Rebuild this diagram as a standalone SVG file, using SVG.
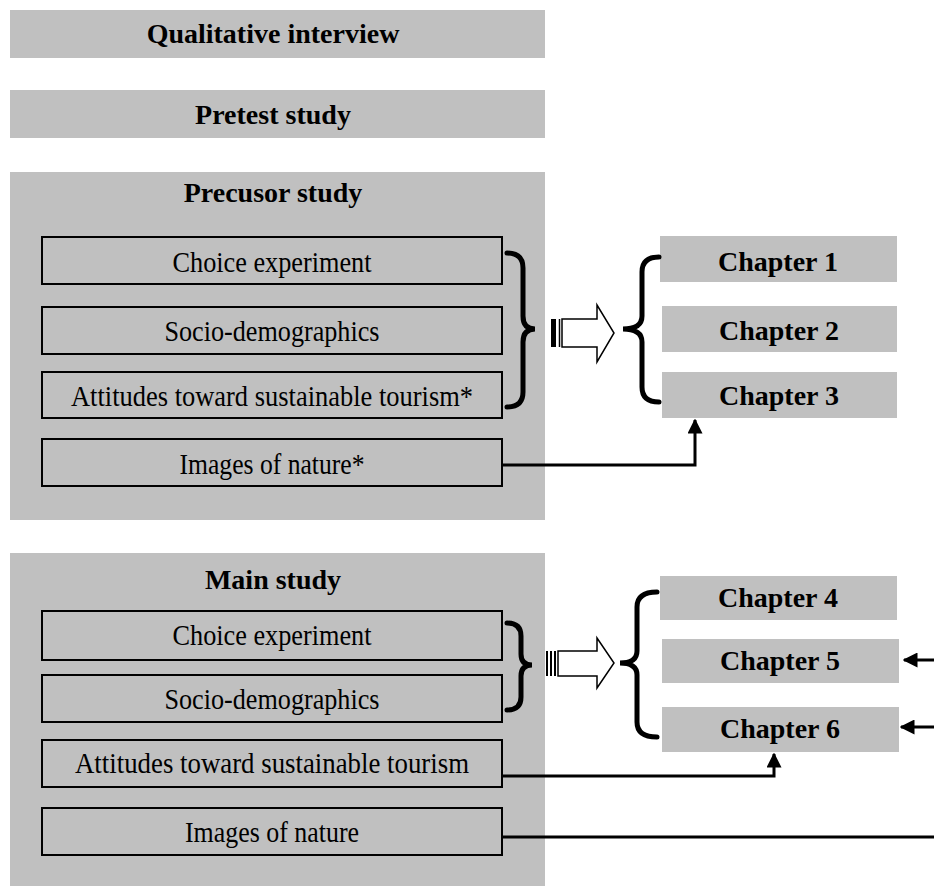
<svg xmlns="http://www.w3.org/2000/svg" width="934" height="888" viewBox="0 0 934 888">
<style>
.g{fill:#c0c0c0}
.b{fill:none;stroke:#000;stroke-width:2}
.t{font-family:"Liberation Serif",serif;font-size:28px;font-weight:bold;text-anchor:middle;fill:#000}
.r{font-family:"Liberation Serif",serif;font-size:29px;text-anchor:middle;fill:#000}
.br{fill:none;stroke:#000;stroke-width:5;stroke-linecap:round}
.c{fill:none;stroke:#000;stroke-width:3}
.ha{fill:#fff;stroke:#000;stroke-width:1.5}
</style>
<defs>
<marker id="ah" viewBox="0 0 10 10" refX="9" refY="5" markerWidth="5" markerHeight="5" orient="auto" markerUnits="strokeWidth">
<path d="M0,0 L10,5 L0,10 z" fill="#000"/>
</marker>
</defs>
<g id="qualitative"><rect class="g" x="10" y="10" width="535" height="48"/><text class="t" x="273" y="43">Qualitative interview</text></g>
<g id="pretest"><rect class="g" x="10" y="90" width="535" height="48"/><text class="t" x="273" y="124">Pretest study</text></g>
<g id="precursor"><rect class="g" x="10" y="172" width="535" height="348"/><text class="t" x="273" y="202">Precusor study</text></g>
<g id="p-choice"><rect class="b" x="42" y="237" width="460" height="47"/><text class="r" x="272" y="272" textLength="199" lengthAdjust="spacingAndGlyphs">Choice experiment</text></g>
<g id="p-socio"><rect class="b" x="42" y="307" width="460" height="47"/><text class="r" x="272" y="341" textLength="215" lengthAdjust="spacingAndGlyphs">Socio-demographics</text></g>
<g id="p-att"><rect class="b" x="42" y="372" width="460" height="46"/><text class="r" x="272" y="406" textLength="402" lengthAdjust="spacingAndGlyphs">Attitudes toward sustainable tourism*</text></g>
<g id="p-img"><rect class="b" x="42" y="439" width="460" height="47"/><text class="r" x="272" y="474" textLength="185" lengthAdjust="spacingAndGlyphs">Images of nature*</text></g>
<g id="main"><rect class="g" x="10" y="553" width="535" height="333"/><text class="t" x="273" y="589">Main study</text></g>
<g id="m-choice"><rect class="b" x="42" y="611" width="460" height="49"/><text class="r" x="272" y="645" textLength="199" lengthAdjust="spacingAndGlyphs">Choice experiment</text></g>
<g id="m-socio"><rect class="b" x="42" y="675" width="460" height="47"/><text class="r" x="272" y="709" textLength="215" lengthAdjust="spacingAndGlyphs">Socio-demographics</text></g>
<g id="m-att"><rect class="b" x="42" y="740" width="460" height="47"/><text class="r" x="272" y="773" textLength="394" lengthAdjust="spacingAndGlyphs">Attitudes toward sustainable tourism</text></g>
<g id="m-img"><rect class="b" x="42" y="808" width="460" height="47"/><text class="r" x="272" y="842" textLength="174" lengthAdjust="spacingAndGlyphs">Images of nature</text></g>
<g id="ch1"><rect class="g" x="660" y="236" width="237" height="46"/><text class="t" x="778" y="271">Chapter 1</text></g>
<g id="ch2"><rect class="g" x="662" y="306" width="235" height="46"/><text class="t" x="779" y="340">Chapter 2</text></g>
<g id="ch3"><rect class="g" x="662" y="372" width="235" height="46"/><text class="t" x="779" y="405">Chapter 3</text></g>
<g id="ch4"><rect class="g" x="660" y="576" width="237" height="44"/><text class="t" x="778" y="607">Chapter 4</text></g>
<g id="ch5"><rect class="g" x="662" y="639" width="237" height="44"/><text class="t" x="780" y="670">Chapter 5</text></g>
<g id="ch6"><rect class="g" x="662" y="707" width="237" height="45"/><text class="t" x="780" y="738">Chapter 6</text></g>
<g id="connectors">
<path class="br" d="M507,253 Q523,253 523,268 L523,316 Q523,329 535,329 Q523,329 523,342 L523,392 Q523,407 507,407"/>
<path class="br" d="M659,257 Q642,257 642,272 L642,316 Q642,329 623,329 Q642,329 642,342 L642,387 Q642,402 659,402"/>
<rect x="551" y="319" width="5" height="28" fill="#000"/>
<line x1="559.5" y1="319" x2="559.5" y2="347" stroke="#000" stroke-width="1.5"/>
<polygon class="ha" points="562,319 597,319 597,305 614,333 597,362 597,347 562,347"/>
<path class="br" d="M507,623 Q521,623 521,636 L521,654 Q521,665 532,665 Q521,665 521,676 L521,697 Q521,710 507,710"/>
<path class="br" d="M657,592 Q637,592 637,607 L637,651 Q637,663 620,663 Q637,663 637,675 L637,722 Q637,737 657,737"/>
<rect x="546" y="651" width="2" height="25" fill="#000"/>
<rect x="550" y="651" width="2" height="25" fill="#000"/>
<rect x="554" y="651" width="2" height="25" fill="#000"/>
<polygon class="ha" points="558,651 597,651 597,638 614,663 597,688 597,676 558,676"/>
<polyline class="c" points="502,465 695,465 695,420" marker-end="url(#ah)"/>
<polyline class="c" points="502,776 774,776 774,754" marker-end="url(#ah)"/>
<line class="c" x1="502" y1="837" x2="934" y2="837"/>
<line class="c" x1="934" y1="660" x2="904" y2="660" marker-end="url(#ah)"/>
<line class="c" x1="934" y1="727" x2="901" y2="727" marker-end="url(#ah)"/>
</g>
</svg>
